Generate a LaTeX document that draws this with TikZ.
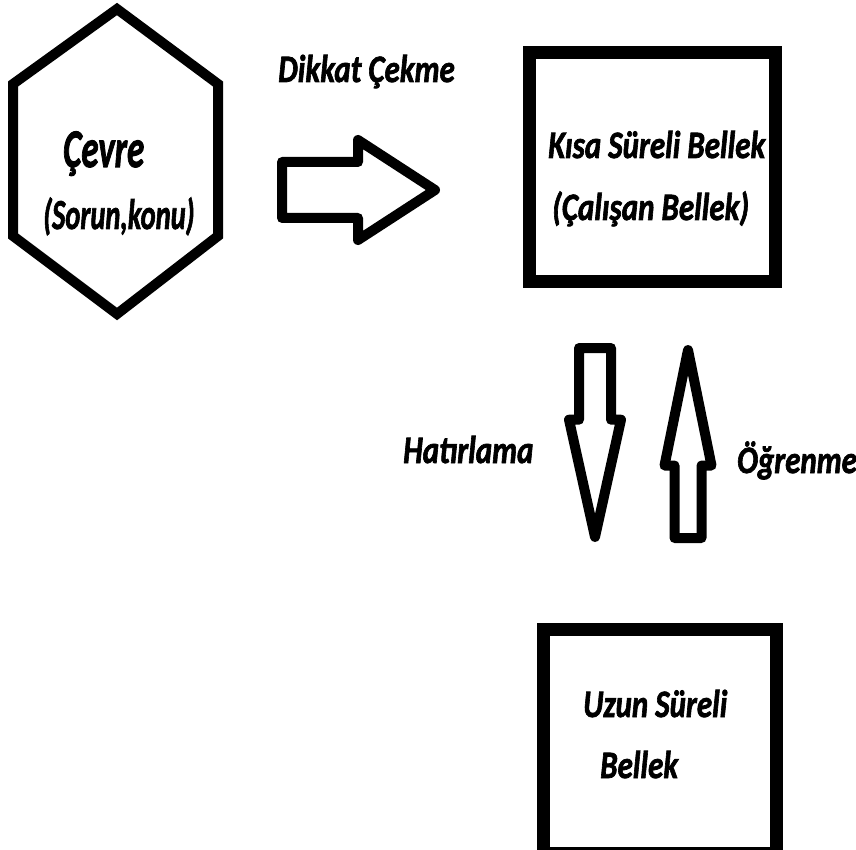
\documentclass[tikz,border=0pt]{standalone}
\usepackage{fontspec}
\setmainfont{Carlito}[BoldItalicFeatures={FakeBold=2}]
\usepackage{graphicx}
\usetikzlibrary{shapes.arrows}
\newcommand{\tall}[2][1.25]{\scalebox{1}[#1]{#2}}

\begin{document}
\begin{tikzpicture}[
						x=1pt, y=-1pt,
						lbl/.style = {inner sep=0pt, anchor=base west, font=\fontsize{31}{37}\selectfont\bfseries\itshape},
						box/.style = {draw, rectangle, line width=13pt, inner sep=0pt},
						blockarrow/.style = {draw, single arrow, line width=10pt, line join=round, single arrow head indent=0pt, inner sep=0pt, outer sep=0pt, minimum width=0pt, anchor=tail}
					]
\useasboundingbox (0,0) rectangle (856,850);

\draw[line width=10pt] (13,84) -- (117,9) -- (218,84) -- (218,236) -- (117,314) -- (13,236) -- cycle;
\node[box, minimum width=246pt, minimum height=228pt] (kisabox) at (652,167) {};
\node[box, minimum width=233pt, minimum height=224pt] (uzunbox) at (660,741) {};

\node[lbl, font=\fontsize{35}{40}\selectfont\bfseries\itshape] (cevre) at (63,167) {\tall[1.55]{Çevre}};
\node[lbl, font=\fontsize{28.5}{34}\selectfont\bfseries\itshape] (sorun) at (43,229) {\tall[1.5]{(Sorun,konu)}};
\node[lbl] (dikkat) at (278,82) {\tall{Dikkat Çekme}};
\node[lbl] (kisa) at (548,158) {\tall{Kısa Süreli Bellek}};
\node[lbl] (calisan) at (552,220) {\tall{(Çalışan Bellek)}};
\node[lbl] (hatirlama) at (403,463) {\tall{Hatırlama}};
\node[lbl] (ogrenme) at (737,473) {\tall{Öğrenme}};
\node[lbl] (uzun) at (583,717) {\tall{Uzun Süreli}};
\node[lbl] (bellek) at (600,778) {\tall{Bellek}};

\node[blockarrow, minimum height=153pt, inner ysep=23pt, single arrow head extend=22pt, single arrow tip angle=66] (dikkatok) at (282,190) {};
\node[blockarrow, rotate=-90, minimum height=189pt, inner ysep=11pt, single arrow head extend=10pt, single arrow tip angle=25] (hatirlamaok) at (595,348) {};
\node[blockarrow, rotate=90, minimum height=188pt, inner ysep=8.5pt, single arrow head extend=10pt, single arrow tip angle=23] (ogrenmeok) at (688,538) {};
\end{tikzpicture}
\end{document}
